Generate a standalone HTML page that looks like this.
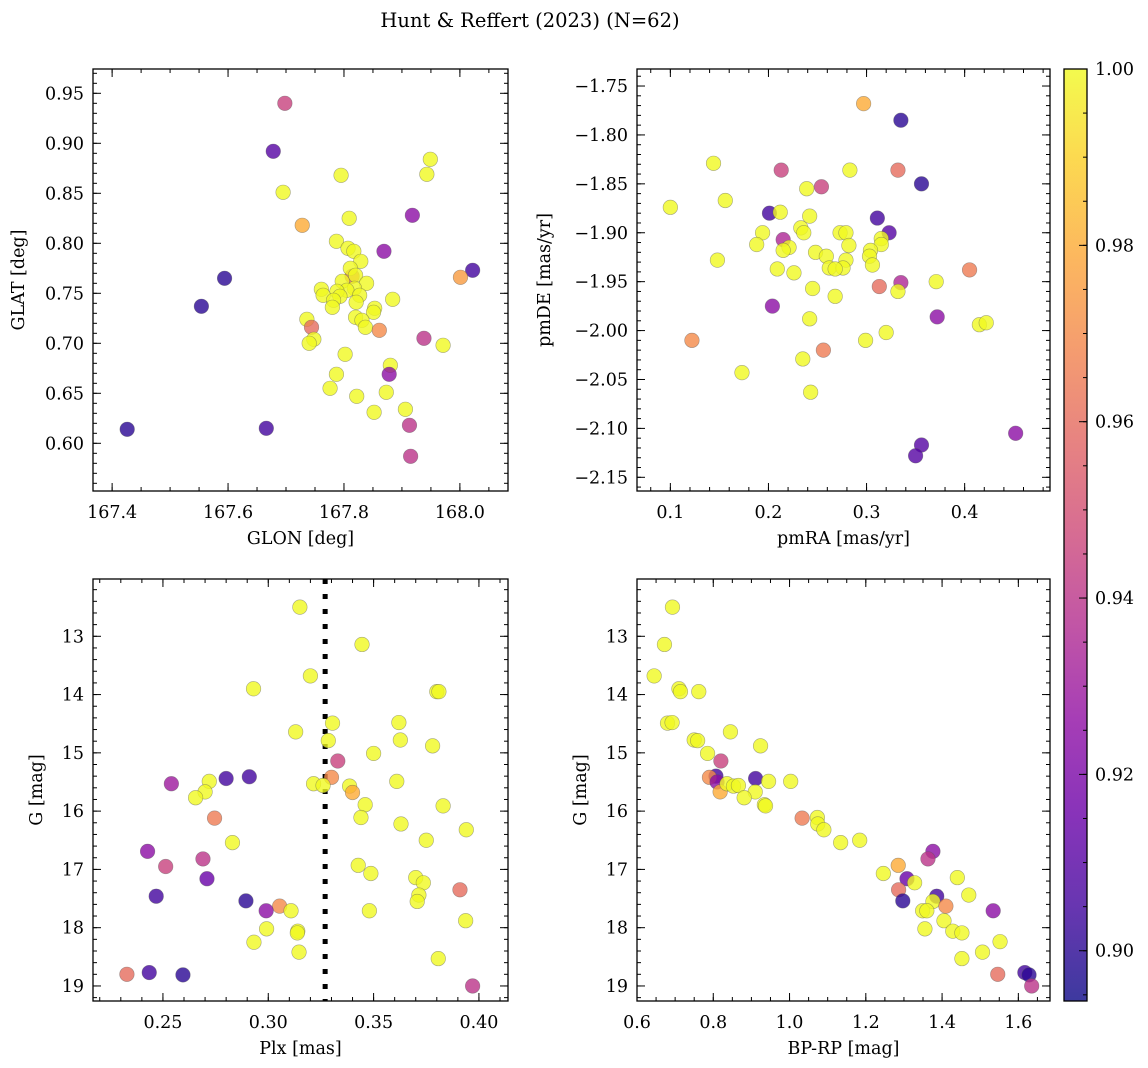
<!DOCTYPE html>
<html><head><meta charset="utf-8">
<style>
html,body{margin:0;padding:0;background:#fff;}
svg{display:block;font-family:"DejaVu Serif","Liberation Serif",serif;}
</style></head>
<body>
<svg id="fig" xmlns="http://www.w3.org/2000/svg" width="1148" height="1068" viewBox="0 0 1148 1068">
<rect width="1148" height="1068" fill="#fff"/>
<text x="530" y="27" font-size="19.5" text-anchor="middle">Hunt &amp; Reffert (2023) (N=62)</text>
<defs><linearGradient id="plasma" x1="0" y1="1" x2="0" y2="0"></linearGradient></defs>
</svg>
<script>
// ---- data: top-left (GLON/GLAT)
const tlGlon=[167.814,167.698,167.678,167.795,167.695,167.949,167.943,167.918,167.809,167.728,167.787,167.807,167.817,167.869,167.829,167.811,167.820,168.022,168.001,167.594,167.839,167.797,167.818,167.761,167.805,167.788,167.764,167.827,167.793,167.782,167.884,167.821,167.780,167.554,167.853,167.851,167.820,167.736,167.831,167.744,167.837,167.861,167.938,167.748,167.740,167.971,167.802,167.880,167.878,167.787,167.776,167.873,167.822,167.906,167.852,167.913,167.426,167.666,167.915];
const tlGlat=[0.767,0.940,0.892,0.868,0.851,0.884,0.869,0.828,0.825,0.818,0.802,0.795,0.792,0.792,0.782,0.775,0.768,0.773,0.766,0.765,0.760,0.762,0.755,0.754,0.753,0.752,0.748,0.748,0.747,0.743,0.744,0.741,0.736,0.737,0.735,0.731,0.726,0.724,0.723,0.716,0.716,0.713,0.705,0.704,0.700,0.698,0.689,0.678,0.669,0.669,0.655,0.651,0.647,0.634,0.631,0.618,0.614,0.615,0.587];
const tlProb=[0.96,0.945,0.91,1,1,1,1,0.925,1,0.98,1,1,1,0.925,1,1,1,0.905,0.975,0.90,1,1,1,1,1,1,1,1,1,1,1,1,1,0.90,1,1,1,1,1,0.96,1,0.97,0.94,1,1,1,1,1,0.925,1,1,1,1,1,1,0.94,0.90,0.905,0.94];
// ---- data: top-right (pmRA/pmDE)
const trPmra=[0.297,0.335,0.144,0.213,0.283,0.332,0.254,0.239,0.356,0.156,0.100,0.201,0.212,0.242,0.311,0.233,0.236,0.194,0.273,0.279,0.323,0.215,0.315,0.188,0.221,0.215,0.282,0.315,0.304,0.248,0.259,0.303,0.148,0.279,0.306,0.262,0.276,0.268,0.209,0.226,0.405,0.335,0.371,0.313,0.332,0.245,0.268,0.204,0.372,0.242,0.415,0.422,0.320,0.122,0.299,0.256,0.235,0.173,0.243,0.452,0.356,0.350];
const trPmde=[-1.768,-1.785,-1.829,-1.836,-1.836,-1.836,-1.853,-1.855,-1.850,-1.867,-1.874,-1.880,-1.879,-1.883,-1.885,-1.895,-1.900,-1.900,-1.900,-1.900,-1.900,-1.907,-1.906,-1.912,-1.915,-1.918,-1.913,-1.912,-1.918,-1.920,-1.924,-1.924,-1.928,-1.928,-1.933,-1.936,-1.936,-1.937,-1.937,-1.941,-1.938,-1.951,-1.950,-1.955,-1.960,-1.957,-1.965,-1.975,-1.986,-1.988,-1.994,-1.992,-2.002,-2.010,-2.010,-2.020,-2.029,-2.043,-2.063,-2.105,-2.117,-2.128];
const trProb=[0.98,0.90,1,0.945,1,0.96,0.945,1,0.90,1,1,0.905,1,1,0.905,1,1,1,1,1,0.91,0.935,1,1,1,1,1,1,1,1,1,1,1,1,1,1,1,1,1,1,0.965,0.935,1,0.96,1,1,1,0.925,0.925,1,1,1,1,0.97,1,0.965,1,1,1,0.925,0.91,0.91];
// ---- data: bottom-left (Plx/G)
const blPlx=[0.315,0.3445,0.320,0.293,0.380,0.381,0.313,0.3305,0.362,0.3285,0.3627,0.378,0.350,0.333,0.330,0.254,0.272,0.280,0.291,0.3215,0.326,0.3386,0.340,0.361,0.270,0.2655,0.346,0.383,0.2745,0.344,0.363,0.394,0.283,0.375,0.2427,0.269,0.2513,0.3427,0.3487,0.2709,0.370,0.3736,0.391,0.2468,0.3715,0.3707,0.2894,0.3054,0.299,0.3108,0.348,0.3937,0.2992,0.314,0.3138,0.2932,0.3146,0.3807,0.2329,0.2435,0.2595,0.397];
const blG=[12.50,13.14,13.68,13.90,13.95,13.95,14.64,14.49,14.48,14.79,14.78,14.88,15.01,15.14,15.42,15.53,15.49,15.44,15.41,15.53,15.56,15.57,15.68,15.49,15.67,15.77,15.89,15.91,16.12,16.11,16.22,16.32,16.54,16.50,16.69,16.82,16.95,16.93,17.07,17.16,17.14,17.23,17.35,17.46,17.44,17.55,17.54,17.63,17.71,17.71,17.71,17.88,18.02,18.06,18.09,18.25,18.42,18.53,18.80,18.77,18.81,19.00];
const blProb=[1,1,1,1,1,1,1,1,1,1,1,1,1,0.945,0.97,0.93,1,0.905,0.905,1,1,1,0.98,1,1,1,1,1,0.965,1,1,1,1,1,0.925,0.94,0.945,1,1,0.915,1,1,0.96,0.905,1,1,0.90,0.97,0.925,1,1,1,1,1,1,1,1,1,0.96,0.905,0.90,0.94];
// ---- data: bottom-right (BP-RP/G)
const brBprp=[0.693,0.672,0.645,0.710,0.714,0.762,0.680,0.692,0.845,0.750,0.759,0.924,0.785,0.820,0.807,0.790,0.810,0.911,0.818,0.836,0.853,0.866,0.945,1.003,0.910,0.881,0.934,0.937,1.033,1.073,1.074,1.090,1.134,1.184,1.376,1.363,1.285,1.246,1.308,1.328,1.440,1.286,1.297,1.386,1.376,1.410,1.470,1.534,1.349,1.360,1.405,1.355,1.428,1.452,1.552,1.506,1.452,1.546,1.617,1.628,1.635];
const brG=[12.50,13.14,13.68,13.90,13.95,13.95,14.49,14.48,14.64,14.78,14.79,14.88,15.01,15.14,15.40,15.42,15.50,15.44,15.67,15.53,15.57,15.56,15.49,15.49,15.67,15.77,15.89,15.91,16.12,16.11,16.22,16.32,16.54,16.50,16.69,16.82,16.93,17.07,17.16,17.23,17.14,17.35,17.54,17.46,17.55,17.63,17.44,17.71,17.71,17.71,17.88,18.02,18.06,18.09,18.24,18.42,18.53,18.80,18.77,18.81,19.00];
const brProb=[1,1,1,1,1,1,1,1,1,1,1,1,1,0.945,0.905,0.97,0.925,0.905,0.98,1,1,1,1,1,1,1,1,1,0.965,1,1,1,1,1,0.925,0.94,0.98,1,0.915,1,1,0.96,0.90,0.905,1,0.97,1,0.925,1,1,1,1,1,1,1,1,1,0.96,0.905,0.90,0.94];
// ---- tick values
const tlXTicks=[167.4,167.6,167.8,168.0], tlXLabels=["167.4","167.6","167.8","168.0"];
const tlYTicks=[0.60,0.65,0.70,0.75,0.80,0.85,0.90,0.95];
const trXTicks=[0.1,0.2,0.3,0.4];
const trYTicks=[-1.75,-1.80,-1.85,-1.90,-1.95,-2.00,-2.05,-2.10,-2.15];
const blXTicks=[0.25,0.30,0.35,0.40];
const gTicks=[13,14,15,16,17,18,19];
const brXTicks=[0.6,0.8,1.0,1.2,1.4,1.6];
const cbTicks=[0.90,0.92,0.94,0.96,0.98,1.00];
const plxCut=[0.327];

const NS="http://www.w3.org/2000/svg";
const svg=document.getElementById('fig');
const VMIN=0.8943,VMAX=1.0;
const FS=17.5;
const PL=[[13,8,135],[65,4,157],[106,0,168],[143,13,164],[177,42,144],[204,71,120],[225,100,98],[242,132,75],[252,166,54],[252,206,37],[240,249,33]];
function plasma(t){t=Math.max(0,Math.min(1,t));const f=t*10,i=Math.min(9,Math.floor(f)),u=f-i;const a=PL[i],b=PL[i+1];return 'rgb('+a.map((v,k)=>Math.round(v+(b[k]-v)*u)).join(',')+')';}
function el(tag,attrs,parent){const e=document.createElementNS(NS,tag);for(const k in attrs)e.setAttribute(k,attrs[k]);(parent||svg).appendChild(e);return e;}
function fmt(v,d){let s=v.toFixed(d);return s.replace('-','\u2212');}

function panel(o){
  const g=el('g',{});
  
  
  const sx=v=>o.x0+(v-o.xmin)/(o.xmax-o.xmin)*(o.x1-o.x0);
  const sy=o.invert?(v=>o.y0+(v-o.ymin)/(o.ymax-o.ymin)*(o.y1-o.y0)):(v=>o.y1-(v-o.ymin)/(o.ymax-o.ymin)*(o.y1-o.y0));
  const mt=el('g',{stroke:'#000','stroke-width':1},g);
  
  
  for(let v=Math.ceil(o.xmin/o.xminor-1e-6)*o.xminor;v<=o.xmax+1e-9;v+=o.xminor){const X=sx(v);
    el('line',{x1:X,x2:X,y1:o.y1,y2:o.y1-4},mt);el('line',{x1:X,x2:X,y1:o.y0,y2:o.y0+4},mt);}
  const ylo=Math.min(o.ymin,o.ymax),yhi=Math.max(o.ymin,o.ymax);
  for(let v=Math.ceil(ylo/o.yminor-1e-6)*o.yminor;v<=yhi+1e-9;v+=o.yminor){const Y=sy(v);
    el('line',{x1:o.x0,x2:o.x0+4,y1:Y,y2:Y},mt);el('line',{x1:o.x1,x2:o.x1-4,y1:Y,y2:Y},mt);}
  o.xt.forEach((v,i)=>{const X=sx(v);
    el('line',{x1:X,x2:X,y1:o.y1,y2:o.y1-8},mt);el('line',{x1:X,x2:X,y1:o.y0,y2:o.y0+8},mt);
    const t=el('text',{x:X,y:o.y1+27,'font-size':FS,'text-anchor':'middle'},g);t.textContent=o.xl?o.xl[i]:fmt(v,o.xd);
    
    });
  o.yt.forEach(v=>{const Y=sy(v);
    el('line',{x1:o.x0,x2:o.x0+8,y1:Y,y2:Y},mt);el('line',{x1:o.x1,x2:o.x1-8,y1:Y,y2:Y},mt);
    const t=el('text',{x:o.x0-9,y:Y+6,'font-size':FS,'text-anchor':'end'},g);t.textContent=fmt(v,o.yd);
    
    });
  if(o.vline){o.vline.forEach(v=>{const l=el('line',{x1:sx(v),x2:sx(v),y1:o.y0,y2:o.y1,stroke:'#000','stroke-width':5,'stroke-dasharray':'5 10'},g);
    
    });}
  const pts=el('g',{},g);
  
  
  o.xs.forEach((xv,i)=>{const c=el('circle',{cx:sx(xv),cy:sy(o.ys[i]),r:7.3,fill:plasma((o.cs[i]-VMIN)/(VMAX-VMIN)),'fill-opacity':0.8,stroke:'#555','stroke-opacity':0.5,'stroke-width':0.6},pts);
    
    });
  const box=el('rect',{x:o.x0,y:o.y0,width:o.x1-o.x0,height:o.y1-o.y0,fill:'none',stroke:'#000','stroke-width':1.3},g);
  
  
  const xl=el('text',{x:(o.x0+o.x1)/2,y:o.y1+53,'font-size':FS,'text-anchor':'middle'},g);xl.textContent=o.xlabel;
  
  
  const yx=o.ylx,yy=(o.y0+o.y1)/2;
  const yl=el('text',{x:yx,y:yy,'font-size':FS,'text-anchor':'middle',transform:'rotate(-90 '+yx+' '+yy+')'},g);yl.textContent=o.ylabel;
  
  
}

panel({name:'glon-glat-panel',x0:93,x1:508,y0:69,y1:491,xmin:167.367,xmax:168.083,ymin:0.5523,ymax:0.9743,xminor:0.05,yminor:0.01,xt:tlXTicks,xl:tlXLabels,yt:tlYTicks,yd:2,xs:tlGlon,ys:tlGlat,cs:tlProb,xlabel:'GLON [deg]',ylabel:'GLAT [deg]',ylx:24});
panel({name:'pm-panel',x0:637,x1:1050,y0:69,y1:491,xmin:0.066,xmax:0.487,ymin:-2.164,ymax:-1.7326,xminor:0.02,yminor:0.01,xt:trXTicks,xd:1,yt:trYTicks,yd:2,xs:trPmra,ys:trPmde,cs:trProb,xlabel:'pmRA [mas/yr]',ylabel:'pmDE [mas/yr]',ylx:550});
panel({name:'plx-g-panel',x0:93,x1:508,y0:579,y1:1001,xmin:0.2168,xmax:0.4138,ymin:12.017,ymax:19.258,invert:true,xminor:0.01,yminor:0.2,xt:blXTicks,xd:2,yt:gTicks,yd:0,xs:blPlx,ys:blG,cs:blProb,xlabel:'Plx [mas]',ylabel:'G [mag]',ylx:42,vline:plxCut});
panel({name:'cmd-panel',x0:637,x1:1050,y0:579,y1:1001,xmin:0.6,xmax:1.683,ymin:12.017,ymax:19.258,invert:true,xminor:0.05,yminor:0.2,xt:brXTicks,xd:1,yt:gTicks,yd:0,xs:brBprp,ys:brG,cs:brProb,xlabel:'BP-RP [mag]',ylabel:'G [mag]',ylx:586});

// colorbar
const grad=document.getElementById('plasma');
for(let i=0;i<=10;i++){const s=el('stop',{offset:(i/10),'stop-color':plasma(i/10),'stop-opacity':0.8},grad);}
const cb=el('g',{});


const CX0=1064,CX1=1087,CY0=69,CY1=1001;
const cy=v=>CY1-(v-VMIN)/(VMAX-VMIN)*(CY1-CY0);
el('rect',{x:CX0,y:CY0,width:CX1-CX0,height:CY1-CY0,fill:'url(#plasma)'},cb);
for(let v=0.895;v<=1.0001;v+=0.005){const Y=cy(v);el('line',{x1:CX1,x2:CX1-4,y1:Y,y2:Y,stroke:'#000'},cb);}
cbTicks.forEach(v=>{const Y=cy(v);el('line',{x1:CX1,x2:CX1-8,y1:Y,y2:Y,stroke:'#000'},cb);
  const t=el('text',{x:CX1+8,y:Y+6,'font-size':FS},cb);t.textContent=v.toFixed(2);
  
  });
el('rect',{x:CX0,y:CY0,width:CX1-CX0,height:CY1-CY0,fill:'none',stroke:'#000','stroke-width':1.3},cb);
</script>
</body></html>
